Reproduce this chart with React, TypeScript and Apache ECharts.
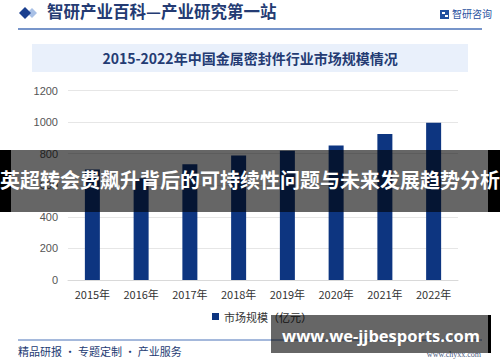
import React, { useEffect, useRef } from "react";
import * as echarts from "echarts";

const categories = ["2015年", "2016年", "2017年", "2018年", "2019年", "2020年", "2021年", "2022年"];
const marketSize = [700, 645, 733, 789, 818, 852, 924, 995];
const seriesName = "市场规模（亿元）";
const headerTitle = "智研产业百科—产业研究第一站";
const brandName = "智研咨询";
const chartTitle = "2015-2022年中国金属密封件行业市场规模情况";
const overlayText = "英超转会费飙升背后的可持续性问题与未来发展趋势分析";
const footerText = "精品研报 · 专题定制 · 产业服务";
const footerUrl = "www.chyxx.com";
const bannerUrl = "www.we-jjbesports.com";

const CJK = '"Noto Sans CJK SC", "Noto Sans", sans-serif';

export default function App() {
  const ref = useRef<HTMLDivElement>(null);
  useEffect(() => {
    if (!ref.current) return;
    const chart = echarts.init(ref.current, undefined, { renderer: "svg" });
    chart.setOption({
      animation: false,
      backgroundColor: "#ffffff",
      textStyle: { fontFamily: CJK },
      grid: { left: 68, right: 42, top: 90.5, bottom: 82 },
      legend: {
        data: [seriesName],
        left: 207,
        top: 306,
        itemWidth: 7,
        itemHeight: 7,
        icon: "rect",
        itemGap: 4,
        textStyle: { fontSize: 11, color: "#333", fontFamily: CJK },
      },
      xAxis: {
        type: "category",
        data: categories,
        axisLine: { lineStyle: { color: "#d9d9d9" } },
        axisTick: { show: false },
        axisLabel: { fontSize: 11, color: "#333", margin: 8, fontFamily: CJK },
      },
      yAxis: {
        type: "value",
        min: 0,
        max: 1200,
        interval: 200,
        axisLine: { show: false },
        axisTick: { show: false },
        splitLine: { lineStyle: { color: "#e6e6e6" } },
        axisLabel: {
          fontSize: 11,
          color: "#555",
          margin: 10,
          fontFamily: "Arial, Liberation Sans, sans-serif",
          formatter: (v: number) => String(v),
        },
      },
      series: [
        {
          name: seriesName,
          type: "bar",
          data: marketSize,
          barWidth: 15,
          itemStyle: { color: "#0d3580" },
        },
      ],
      graphic: [
        // header
        { type: "polygon", z: 10, shape: { points: [[32, 8], [37, 13], [32, 18], [27, 13]] }, style: { fill: "#a8c0e6" } },
        { type: "polygon", z: 11, shape: { points: [[25, 7], [31, 13], [25, 19], [19, 13]] }, style: { fill: "#1b3f8f" } },
        {
          type: "text", z: 10, left: 47, top: 3,
          style: { text: headerTitle, fontSize: 16.5, fontWeight: "bold", fill: "#243b73", fontFamily: CJK },
        },
        { type: "rect", z: 10, shape: { x: 440, y: 10, width: 9, height: 9 }, style: { fill: "#1f4fa0" } },
        { type: "rect", z: 11, shape: { x: 442, y: 12, width: 3, height: 2 }, style: { fill: "#ffffff" } },
        { type: "rect", z: 11, shape: { x: 445, y: 15, width: 3, height: 2 }, style: { fill: "#ffffff" } },
        {
          type: "text", z: 10, left: 452, top: 8,
          style: { text: brandName, fontSize: 10, fill: "#1f4fa0", fontFamily: CJK },
        },
        { type: "line", z: 10, shape: { x1: 18, y1: 29, x2: 482, y2: 29 }, style: { stroke: "#4a72b8", lineWidth: 1.5 } },
        // title box
        { type: "rect", z: 5, shape: { x: 32, y: 44, width: 436, height: 28 }, style: { fill: "#e9f0fb" } },
        {
          type: "text", z: 10, x: 250, y: 58,
          style: { text: chartTitle, fontSize: 14, fontWeight: "bold", fill: "#243b73", align: "center", verticalAlign: "middle", fontFamily: CJK },
        },
        // footer
        { type: "line", z: 10, shape: { x1: 18, y1: 340, x2: 482, y2: 340 }, style: { stroke: "#4a72b8", lineWidth: 1 } },
        {
          type: "text", z: 10, left: 18, top: 345,
          style: { text: footerText, fontSize: 11, fill: "#243b73", fontFamily: CJK },
        },
        {
          type: "text", z: 10, x: 481, y: 354,
          style: { text: footerUrl, fontSize: 8, fill: "#4a5a80", align: "right", verticalAlign: "middle", fontFamily: "serif" },
        },
        // overlay banner
        { type: "rect", z: 100, shape: { x: 0, y: 150, width: 11, height: 62 }, style: { fill: "#000000" } },
        { type: "rect", z: 100, shape: { x: 488, y: 150, width: 12, height: 62 }, style: { fill: "#000000" } },
        { type: "rect", z: 100, shape: { x: 11, y: 150, width: 477, height: 62 }, style: { fill: "rgba(0,0,0,0.6)" } },
        {
          type: "text", z: 101, x: 250, y: 179,
          style: { text: overlayText, fontSize: 20, fontWeight: "bold", fill: "#ffffff", align: "center", verticalAlign: "middle", fontFamily: CJK },
        },
        // footer url banner
        { type: "rect", z: 100, shape: { x: 271, y: 315, width: 217, height: 38 }, style: { fill: "rgba(0,0,0,0.6)" } },
        { type: "rect", z: 100, shape: { x: 488, y: 315, width: 3, height: 38 }, style: { fill: "#000000" } },
        {
          type: "text", z: 101, x: 381, y: 335,
          style: { text: bannerUrl, fontSize: 16.5, fontWeight: "bold", fill: "#ffffff", align: "center", verticalAlign: "middle", fontFamily: '"Open Sans", "DejaVu Sans", sans-serif' },
        },
      ],
    });
    return () => chart.dispose();
  }, []);
  return <div ref={ref} style={{ width: 500, height: 362, position: "absolute", left: 0, top: 0 }} />;
}
